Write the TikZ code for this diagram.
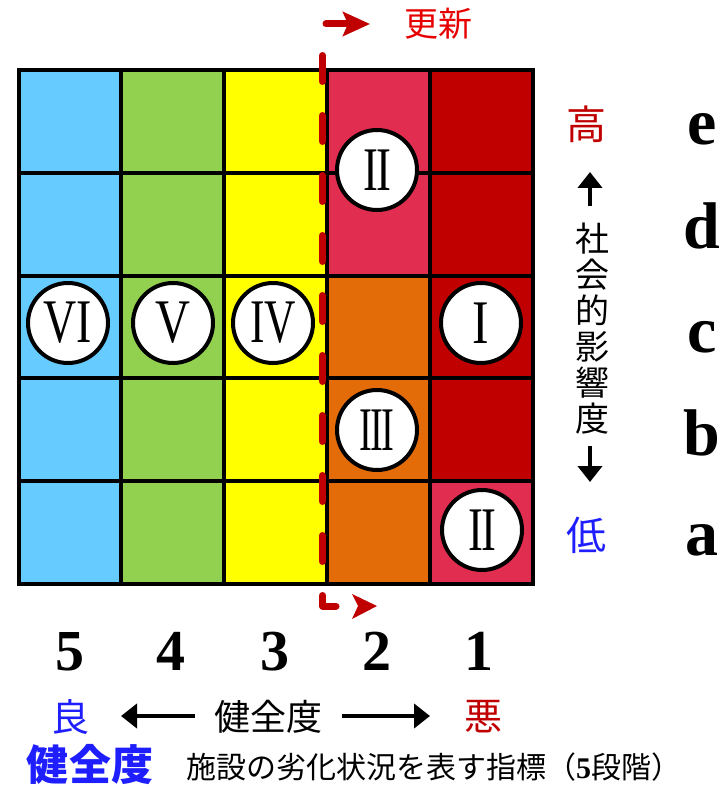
\documentclass[tikz,border=0pt]{standalone}
\usepackage{fontspec}
\newfontfamily\cjk{Noto Sans CJK JP}
\newfontfamily\serifb{Liberation Serif}
\usetikzlibrary{arrows.meta}
\definecolor{cblue}{RGB}{102,204,255}
\definecolor{cgreen}{RGB}{146,208,80}
\definecolor{cyellow}{RGB}{255,255,0}
\definecolor{cpink}{RGB}{224,45,80}
\definecolor{corange}{RGB}{227,108,9}
\definecolor{cred}{RGB}{192,0,0}
\definecolor{tred}{RGB}{230,0,0}
\definecolor{tblue}{RGB}{30,30,255}
\newcommand\rnm[2]{\scalebox{#1}[1]{#2}}
\newcommand\ii{I\kern-0.045em I}
\begin{document}
\begin{tikzpicture}[x=1pt,y=-1pt,
  gridline/.style={line width=4pt, line cap=rect},
  numc/.style={circle, draw=black, line width=4pt, fill=white, minimum size=80pt, inner sep=0pt, font=\serifb\fontsize{62}{62}\selectfont},
  digit/.style={anchor=base, inner sep=0pt, font=\serifb\fontsize{58}{58}\selectfont\bfseries},
  letter/.style={anchor=base, inner sep=0pt, font=\serifb\fontsize{66}{66}\selectfont\bfseries},
  jtxt/.style={inner sep=0pt, font=\cjk\fontsize{36}{36}\selectfont},
  barrow/.style={line width=4pt, -{Triangle[length=16pt,width=24pt]}},
]
\useasboundingbox (0,0) rectangle (726,786);
% cells
\foreach \c/\r/\col in {0/0/cblue,0/1/cblue,0/2/cblue,0/3/cblue,0/4/cblue,
  1/0/cgreen,1/1/cgreen,1/2/cgreen,1/3/cgreen,1/4/cgreen,
  2/0/cyellow,2/1/cyellow,2/2/cyellow,2/3/cyellow,2/4/cyellow,
  3/0/cpink,3/1/cpink,3/2/corange,3/3/corange,3/4/corange,
  4/0/cred,4/1/cred,4/2/cred,4/3/cred,4/4/cpink}
  \fill[\col] ({18.5+\c*102.8},{70+\r*102.8}) rectangle ({18.5+(\c+1)*102.8},{70+(\r+1)*102.8});
% grid
\foreach \i in {0,...,5} {
  \draw[gridline] ({18.5+\i*102.8},70) -- ({18.5+\i*102.8},584);
  \draw[gridline] (18.5,{70+\i*102.8}) -- (532.5,{70+\i*102.8});
}
% renewal line
\draw[cred, line width=7pt, dash pattern=on 26pt off 34pt, line cap=round, line join=round]
  (322.5,55.5) -- (322.5,606) -- (336,606);
\fill[cred] (377,606) -- (352,594) -- (358,606) -- (352,619) -- cycle;
\coordinate (ra) at (326,24);
\coordinate (rb) at (370,24);
\draw[cred, line width=7pt, line cap=round, -{Stealth[length=27pt,width=24pt,inset=5pt]}] (ra) -- (rb);
\node[jtxt, text=tred, font=\cjk\fontsize{34}{34}\selectfont] (upd) at (438,24) {更新};
% circles
\node[numc] (c6) at (68,323) {\rnm{0.74}{VI}};
\node[numc] (c5) at (173,323) {\rnm{0.78}{V}};
\node[numc] (c4) at (273,323) {\rnm{0.7}{IV}};
\node[numc] (c1) at (481,323) {\rnm{0.8}{I}};
\node[numc] (c2a) at (377,170) {\rnm{0.72}{\ii}};
\node[numc] (c3) at (377,430) {\rnm{0.62}{I\kern-0.045em I\kern-0.045em I}};
\node[numc] (c2b) at (482,530) {\rnm{0.72}{\ii}};
% digits
\node[digit] (d5) at (70,670) {5};
\node[digit] (d4) at (171,670) {4};
\node[digit] (d3) at (275,670) {3};
\node[digit] (d2) at (377,670) {2};
\node[digit] (d1) at (479,670) {1};
% letters
\node[letter] (le) at (702,145) {e};
\node[letter] (ld) at (702,248) {d};
\node[letter] (lc) at (702,352) {c};
\node[letter] (lb) at (702,455) {b};
\node[letter] (la) at (702,555) {a};
% right axis
\node[jtxt, text=cred, font=\cjk\fontsize{40}{40}\selectfont] (high) at (586,124) {高};
\node[jtxt, text=tblue, font=\cjk\fontsize{40}{40}\selectfont] (low) at (586,535) {低};
\node[jtxt, align=center, font=\cjk\fontsize{34}{36}\selectfont] (vt) at (592,329) {社\\会\\的\\影\\響\\度};
\coordinate (ua) at (590,206);
\coordinate (ub) at (590,172);
\coordinate (da) at (590,446);
\coordinate (db) at (590,482);
\draw[barrow] (ua) -- (ub);
\draw[barrow] (da) -- (db);
% bottom axis
\node[jtxt, text=tblue, font=\cjk\fontsize{38}{38}\selectfont] (good) at (70,717) {良};
\node[jtxt] (mid) at (268,717) {健全度};
\node[jtxt, text=cred, font=\cjk\fontsize{38}{38}\selectfont] (bad) at (483,717) {悪};
\coordinate (la1) at (195,716);
\coordinate (la2) at (121,716);
\coordinate (ra1) at (342,716);
\coordinate (ra2) at (430,716);
\draw[barrow] (la1) -- (la2);
\draw[barrow] (ra1) -- (ra2);
% caption
\node[inner sep=0pt, text=tblue, font=\cjk\fontsize{42}{42}\selectfont\bfseries] (cap) at (90,765) {健全度};
\node[inner sep=0pt, anchor=west, font=\cjk\fontsize{30}{30}\selectfont] (desc) at (186,767) {施設の劣化状況を表す指標（{\serifb\bfseries 5}段階）};
\end{tikzpicture}
\end{document}
